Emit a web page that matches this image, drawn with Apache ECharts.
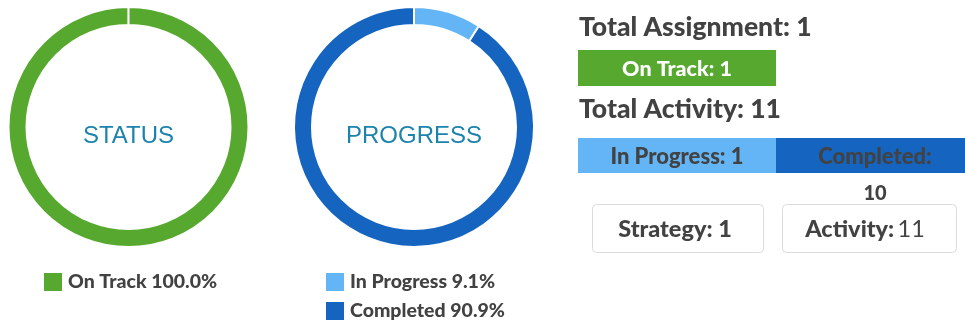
<!DOCTYPE html>
<html>
<head>
<meta charset="utf-8">
<script src="https://cdn.jsdelivr.net/npm/echarts@6/dist/echarts.min.js"></script>
<style>
  html, body { margin: 0; padding: 0; background: #fff; }
  #chart { width: 965px; height: 322px; }
</style>
</head>
<body>
<div id="chart"></div>
<script>
// Assignment status breakdown
const statusNames = ['On Track'];
const statusValues = [1];
// Activity progress breakdown
const progressNames = ['In Progress', 'Completed'];
const progressValues = [1, 10];
// Summary counts
const strategyCount = 1;
const activityCount = 11;

const GREEN = '#57a82f';
const LIGHT_BLUE = '#64b5f6';
const DARK_BLUE = '#1565c0';
const TEXT = '#424242';
const CAPTION = '#1c83ad';
const FONT = 'Lato, "Open Sans", sans-serif';

const sum = a => a.reduce((s, v) => s + v, 0);
const totalAssignment = sum(statusValues);
const totalActivity = sum(progressValues);

const pct = (names, values) => {
  const t = sum(values);
  const m = {};
  names.forEach((n, i) => { m[n] = (values[i] / t * 100).toFixed(1) + '%'; });
  return m;
};
const statusPct = pct(statusNames, statusValues);
const progressPct = pct(progressNames, progressValues);

const chart = echarts.init(document.getElementById('chart'), null, { renderer: 'canvas' });

const legendText = { fontFamily: FONT, fontWeight: 900, fontSize: 19.5, color: TEXT };

// Captions in the ring centres and the right-hand summary panel
const panel = [];
const addText = (x, y, text, style) => panel.push({
  type: 'text', x, y,
  style: Object.assign({ text, fontFamily: FONT, fontWeight: 900, fill: TEXT,
    align: 'left', verticalAlign: 'middle' }, style)
});
const addRect = (x, y, w, h, style, r) => panel.push({
  type: 'rect', shape: { x, y, width: w, height: h, r: r || 0 }, style
});

const captionStyle = { fontFamily: 'Liberation Sans, Arial, sans-serif', fontWeight: 'normal',
  fontSize: 24, fill: CAPTION, align: 'center' };
addText(128.5, 136, 'STATUS', captionStyle);
addText(414, 136, 'PROGRESS', captionStyle);

addText(579, 27, 'Total Assignment: ' + totalAssignment, { fontSize: 26.5 });
addRect(578, 50, 198, 36, { fill: GREEN });
addText(677, 69, statusNames[0] + ': ' + statusValues[0], { fontSize: 21.5, fill: '#fff', align: 'center' });

addText(579, 109, 'Total Activity: ' + totalActivity, { fontSize: 26.5 });
addRect(578, 138, 198, 35, { fill: LIGHT_BLUE });
addRect(776, 138, 189, 35, { fill: DARK_BLUE });
addText(677, 157, progressNames[0] + ': ' + progressValues[0], { fontSize: 22, align: 'center' });
addText(875, 157, progressNames[1] + ':', { fontSize: 22, align: 'center' });
addText(875, 194, String(progressValues[1]), { fontSize: 20, align: 'center' });

addRect(592.5, 204.5, 171, 48, { fill: '#fff', stroke: '#dcdcdc', lineWidth: 1 }, 4);
addRect(782.5, 204.5, 174, 48, { fill: '#fff', stroke: '#dcdcdc', lineWidth: 1 }, 4);
addText(675, 229, 'Strategy: ' + strategyCount, { fontSize: 23.5, align: 'center' });
panel.push({
  type: 'text', x: 865, y: 229,
  style: {
    text: '{b|Activity:} {n|' + activityCount + '}',
    align: 'center', verticalAlign: 'middle',
    rich: {
      b: { fontFamily: FONT, fontWeight: 900, fontSize: 23.5, fill: TEXT, color: TEXT },
      n: { fontFamily: FONT, fontWeight: 'normal', fontSize: 23.5, fill: TEXT, color: TEXT }
    }
  }
});

chart.setOption({
  animation: false,
  color: [GREEN, LIGHT_BLUE, DARK_BLUE],
  legend: [
    {
      data: statusNames, left: 42, top: 271, orient: 'vertical', padding: 0,
      itemWidth: 20, itemHeight: 20, itemGap: 7, icon: 'rect',
      textStyle: legendText, formatter: n => n + ' ' + statusPct[n], selectedMode: false
    },
    {
      data: progressNames, left: 324, top: 271, orient: 'vertical', padding: 0,
      itemWidth: 20, itemHeight: 20, itemGap: 7, icon: 'rect',
      textStyle: legendText, formatter: n => n + ' ' + progressPct[n], selectedMode: false
    }
  ],
  series: [
    {
      type: 'pie', center: [128.5, 127], radius: [102, 120],
      startAngle: 90, endAngle: -269.95, clockwise: true,
      silent: true,
      itemStyle: { borderColor: '#fff', borderWidth: 2 },
      label: { show: false }, labelLine: { show: false },
      data: statusNames.map((n, i) => ({ name: n, value: statusValues[i], itemStyle: { color: GREEN } }))
    },
    {
      type: 'pie', center: [414, 127], radius: [102, 120],
      startAngle: 90, clockwise: true,
      silent: true,
      itemStyle: { borderColor: '#fff', borderWidth: 2 },
      label: { show: false }, labelLine: { show: false },
      data: progressNames.map((n, i) => ({ name: n, value: progressValues[i],
        itemStyle: { color: i === 0 ? LIGHT_BLUE : DARK_BLUE } }))
    }
  ],
  graphic: panel
});
</script>
</body>
</html>
